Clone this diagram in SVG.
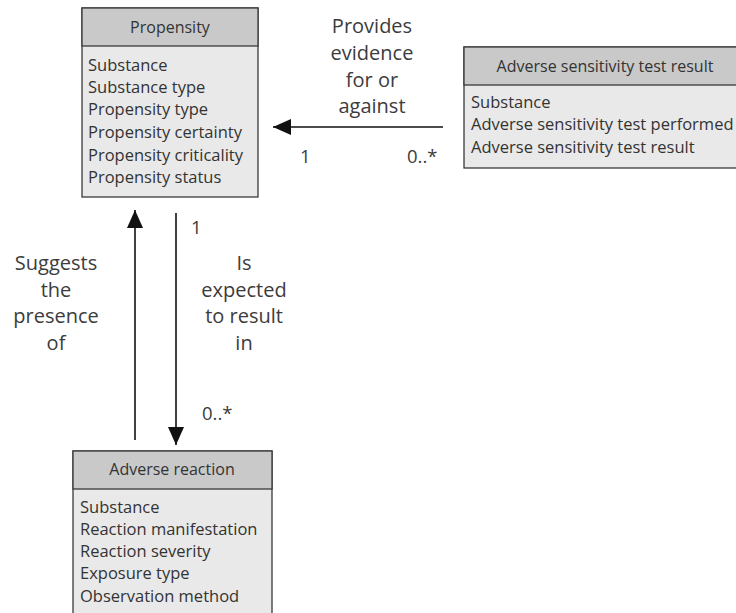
<svg xmlns="http://www.w3.org/2000/svg" width="736" height="613" viewBox="0 0 736 613">
<defs>
<style>
.hdr{fill:#c9c9c9;stroke:#3a3a3a;stroke-width:1.3}
.body{fill:#e9e9e9;stroke:#3a3a3a;stroke-width:1.3}
text{font-family:"Open Sans","Liberation Sans",sans-serif;font-size:16.5px;fill:#333}
.t{text-anchor:middle;font-size:16px}
.lbl{font-size:20px;fill:#3c3c3c;text-anchor:middle}
.m{font-size:18.5px;fill:#3c3c3c}
.ln{stroke:#111;stroke-width:1.6;fill:none}
</style>
<marker id="ahb" viewBox="0 0 18 16" refX="18" refY="8" markerWidth="18" markerHeight="16" markerUnits="userSpaceOnUse" orient="auto">
<path d="M0,0 L18,8 L0,16 z" fill="#111"/>
</marker>
</defs>
<rect width="736" height="613" fill="#fff"/>
<g id="propensity">
<rect class="body" x="82" y="8" width="176" height="189"/>
<rect class="hdr" x="82" y="8" width="176" height="38"/>
<text class="t" x="170" y="33">Propensity</text>
<text x="88" y="71">Substance</text>
<text x="88" y="93">Substance type</text>
<text x="88" y="115">Propensity type</text>
<text x="88" y="138">Propensity certainty</text>
<text x="88" y="161">Propensity criticality</text>
<text x="88" y="183">Propensity status</text>
</g>
<g id="adverse-sensitivity-test-result">
<rect class="body" x="464" y="47" width="280" height="121"/>
<rect class="hdr" x="464" y="47" width="280" height="38"/>
<text class="t" x="605" y="72">Adverse sensitivity test result</text>
<text x="471" y="108">Substance</text>
<text x="471" y="130">Adverse sensitivity test performed</text>
<text x="471" y="153">Adverse sensitivity test result</text>
</g>
<g id="adverse-reaction">
<rect class="body" x="73" y="451" width="199" height="175"/>
<rect class="hdr" x="73" y="451" width="199" height="38"/>
<text class="t" x="172" y="475">Adverse reaction</text>
<text x="80" y="513">Substance</text>
<text x="80" y="535">Reaction manifestation</text>
<text x="80" y="557">Reaction severity</text>
<text x="80" y="579">Exposure type</text>
<text x="80" y="602">Observation method</text>
</g>
<g id="connectors">
<line class="ln" x1="443" y1="127" x2="273" y2="127" marker-end="url(#ahb)"/>
<line class="ln" x1="135" y1="440" x2="135" y2="210" marker-end="url(#ahb)"/>
<line class="ln" x1="176" y1="213" x2="176" y2="445" marker-end="url(#ahb)"/>
</g>
<g id="labels">
<text class="lbl" x="372" y="33">Provides</text>
<text class="lbl" x="372" y="60">evidence</text>
<text class="lbl" x="372" y="87">for or</text>
<text class="lbl" x="372" y="113">against</text>
<text class="m" x="300" y="163">1</text>
<text class="m" x="407" y="163">0..*</text>
<text class="lbl" x="56" y="270">Suggests</text>
<text class="lbl" x="56" y="297">the</text>
<text class="lbl" x="56" y="323">presence</text>
<text class="lbl" x="56" y="350">of</text>
<text class="lbl" x="244" y="270">Is</text>
<text class="lbl" x="244" y="297">expected</text>
<text class="lbl" x="244" y="323">to result</text>
<text class="lbl" x="244" y="350">in</text>
<text class="m" x="191" y="234">1</text>
<text class="m" x="202" y="420">0..*</text>
</g>
</svg>
